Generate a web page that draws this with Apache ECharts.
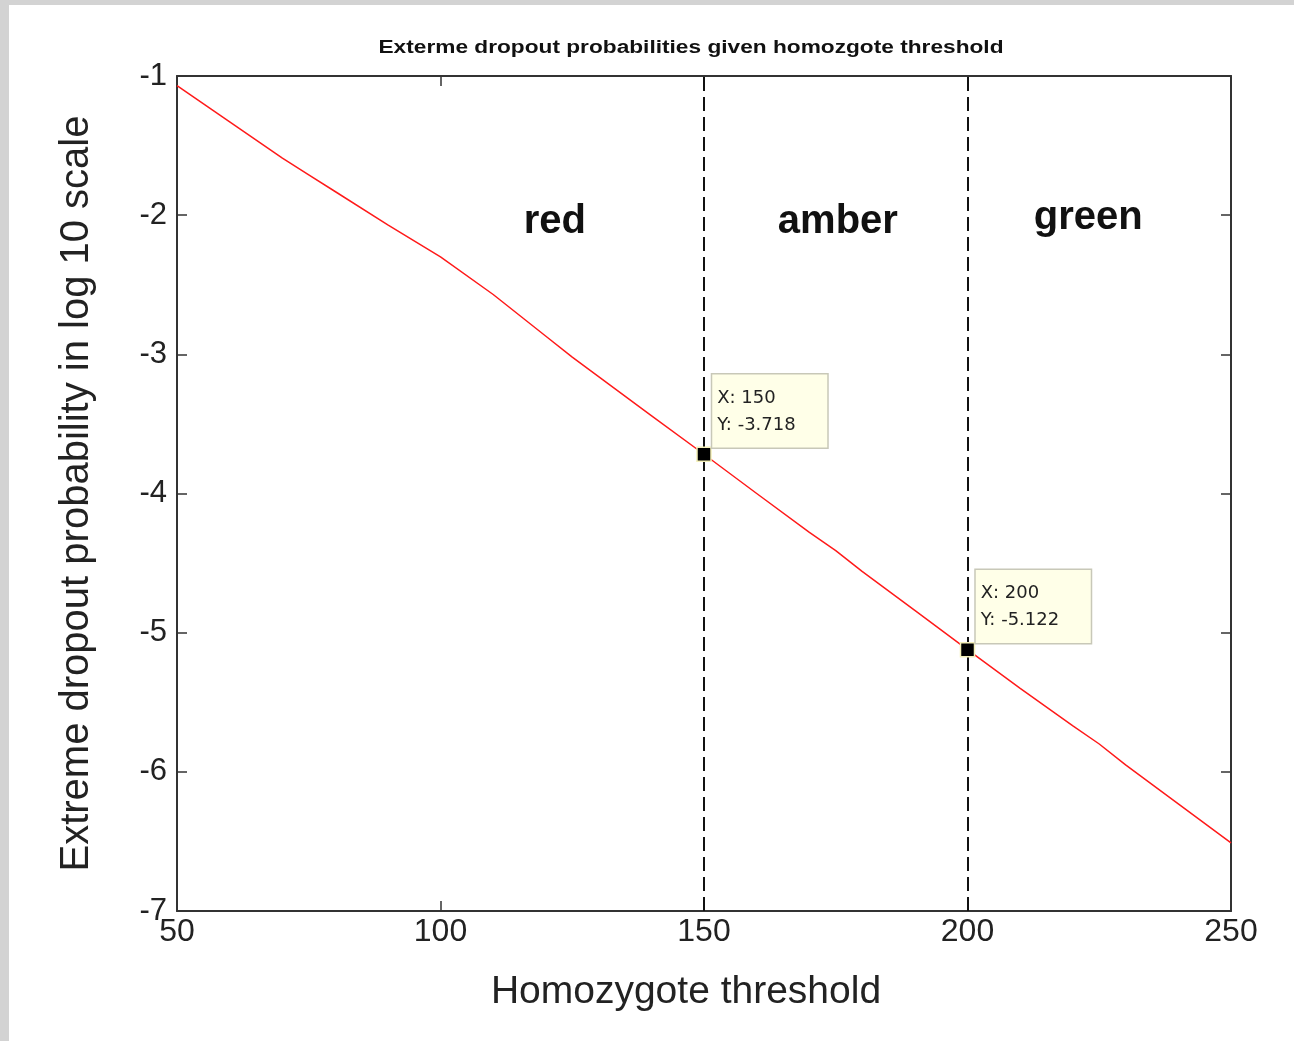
<!DOCTYPE html>
<html>
<head>
<meta charset="utf-8">
<script src="https://cdn.jsdelivr.net/npm/echarts@6/dist/echarts.min.js"></script>
<style>
  html, body { margin: 0; padding: 0; background: #d3d3d3; width: 1294px; height: 1041px; overflow: hidden; }
  #chart { position: absolute; left: 9px; top: 5px; width: 1285px; height: 1036px; background: #ffffff; }
</style>
</head>
<body>
<div id="chart"></div>
<script>
// Homozygote threshold vs. extreme dropout probability (log10)
const thresholds = [50, 60, 70, 75, 80, 90, 100, 110, 120, 125, 130, 140, 150,
                    160, 170, 175, 180, 190, 200, 210, 220, 225, 230, 240, 250];
const logProb = [-1.07, -1.33, -1.59, -1.71, -1.83, -2.07, -2.30, -2.57, -2.87, -3.02, -3.16, -3.44, -3.718,
                 -4.00, -4.28, -4.41, -4.56, -4.84, -5.122, -5.40, -5.67, -5.80, -5.95, -6.23, -6.51];

// Zone boundaries with their data-cursor readouts
const cutX = [150, 200];
const cutY = [-3.718, -5.122];

// Zone names placed in data coordinates
const zoneNames = ['red', 'amber', 'green'];
const zoneX = [121.7, 175.4, 222.9];
const zoneY = [-2.05, -2.05, -2.02];

const xTicks = [50, 100, 150, 200, 250];
const yTicks = [-7, -6, -5, -4, -3, -2, -1];

const FONT = "'Liberation Sans', Arial, Helvetica, sans-serif";
const chart = echarts.init(document.getElementById('chart'));

const axisLine = { show: true, lineStyle: { color: '#333', width: 2 } };
const tick = { show: true, inside: true, length: 10, lineStyle: { color: '#333', width: 1.5 } };

chart.setOption({
  animation: false,
  backgroundColor: '#ffffff',
  grid: { left: 168, top: 71, right: 63, bottom: 130, containLabel: false },
  graphic: [{
    type: 'text',
    x: 682, y: 43,
    scaleX: 1.26,
    style: {
      text: 'Exterme dropout probabilities given homozgote threshold',
      align: 'center', verticalAlign: 'middle',
      font: "bold 18px 'Liberation Sans', Arial, sans-serif",
      fill: '#111'
    }
  }],
  xAxis: [{
    type: 'value', min: xTicks[0], max: xTicks[xTicks.length - 1], interval: 50,
    position: 'bottom',
    name: 'Homozygote threshold', nameLocation: 'middle', nameGap: 62,
    nameTextStyle: { fontFamily: FONT, fontSize: 39, color: '#222', padding: [0, 36, 0, 0] },
    axisLine: axisLine, axisTick: tick, splitLine: { show: false },
    axisLabel: { fontFamily: FONT, fontSize: 32, color: '#222', margin: 5 }
  }, {
    type: 'value', min: xTicks[0], max: xTicks[xTicks.length - 1], interval: 50,
    position: 'top',
    axisLine: axisLine, axisTick: tick, splitLine: { show: false }, axisLabel: { show: false }
  }],
  yAxis: [{
    type: 'value', min: yTicks[0], max: yTicks[yTicks.length - 1], interval: 1,
    position: 'left',
    name: 'Extreme dropout probability in log 10 scale', nameLocation: 'middle', nameGap: 80,
    nameTextStyle: { fontFamily: FONT, fontSize: 40, color: '#222' },
    axisLine: axisLine, axisTick: tick, splitLine: { show: false },
    axisLabel: { fontFamily: FONT, fontSize: 31, color: '#222', margin: 10 }
  }, {
    type: 'value', min: yTicks[0], max: yTicks[yTicks.length - 1], interval: 1,
    position: 'right',
    axisLine: axisLine, axisTick: tick, splitLine: { show: false }, axisLabel: { show: false }
  }],
  series: [{
    type: 'line',
    data: thresholds.map((x, i) => [x, logProb[i]]),
    showSymbol: false,
    lineStyle: { color: '#ff1a1a', width: 1.5 },
    z: 3,
    markLine: {
      silent: true,
      symbol: 'none',
      label: { show: false },
      lineStyle: { color: '#111', width: 2, type: [14, 6] },
      data: cutX.map(x => ({ xAxis: x }))
    }
  }, {
    type: 'scatter',
    data: cutX.map((x, i) => [x, cutY[i]]),
    symbol: 'rect',
    symbolSize: 14,
    itemStyle: { color: '#000', borderColor: '#f4f0b8', borderWidth: 1.5, opacity: 1 },
    z: 5,
    label: {
      show: true,
      position: [16, -72],
      formatter: p => 'X: ' + p.value[0] + '\nY: ' + p.value[1].toFixed(3),
      fontFamily: "'DejaVu Sans', sans-serif",
      fontSize: 18,
      lineHeight: 27,
      color: '#222',
      backgroundColor: '#ffffe8',
      borderColor: '#c8c8b8',
      borderWidth: 1.5,
      padding: [10, 8, 9, 5],
      width: 102,
      align: 'left'
    }
  }, {
    type: 'scatter',
    data: zoneX.map((x, i) => ({ value: [x, zoneY[i]], name: zoneNames[i] })),
    symbolSize: 0,
    silent: true,
    z: 4,
    itemStyle: { opacity: 1 },
    label: {
      show: true,
      position: 'inside',
      formatter: p => p.name,
      fontFamily: FONT,
      fontWeight: 'bold',
      fontSize: 40,
      color: '#111'
    }
  }]
});
</script>
</body>
</html>
